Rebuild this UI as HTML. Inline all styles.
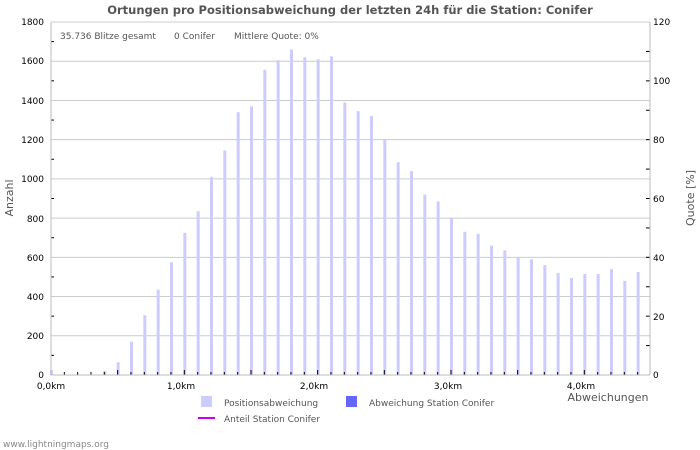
<!DOCTYPE html>
<html><head><meta charset="utf-8"><style>
body{margin:0;background:#fff;}
svg{display:block;font-family:"DejaVu Sans","Liberation Sans",sans-serif;}
</style></head><body>
<svg id="s" width="700" height="450" xmlns="http://www.w3.org/2000/svg">
<rect width="700" height="450" fill="#fff"/>
<text x="350" y="14" text-anchor="middle" font-size="11.5" font-weight="bold" fill="#555">Ortungen pro Positionsabweichung der letzten 24h für die Station: Conifer</text>
<g id="grid"></g>
<g id="bars"></g>
<g id="ticks"></g>
<line x1="51" y1="22" x2="51" y2="375" stroke="#bbb"/>
<line x1="650" y1="22" x2="650" y2="375" stroke="#bbb"/>
<line x1="51" y1="375" x2="650" y2="375" stroke="#bbb"/>
<g font-size="9" fill="#555">
<text x="60" y="39">35.736 Blitze gesamt</text>
<text x="174" y="39">0 Conifer</text>
<text x="234" y="39">Mittlere Quote: 0%</text>
</g>
<g font-size="9" fill="#000" text-anchor="end">
<text x="44" y="25">1800</text><text x="44" y="64">1600</text><text x="44" y="104">1400</text>
<text x="44" y="143">1200</text><text x="44" y="182">1000</text><text x="44" y="222">800</text>
<text x="44" y="261">600</text><text x="44" y="300">400</text><text x="44" y="339">200</text><text x="44" y="378">0</text>
</g>
<g font-size="9" fill="#000">
<text x="653" y="25">120</text><text x="653" y="84">100</text><text x="653" y="143">80</text>
<text x="653" y="202">60</text><text x="653" y="261">40</text><text x="653" y="320">20</text><text x="653" y="378">0</text>
</g>
<g font-size="9" fill="#000" text-anchor="middle">
<text x="51" y="389">0,0km</text><text x="181" y="389">1,0km</text><text x="314" y="389">2,0km</text>
<text x="448" y="389">3,0km</text><text x="581" y="389">4,0km</text>
</g>
<text x="608" y="401" font-size="11" fill="#555" text-anchor="middle">Abweichungen</text>
<text transform="translate(13,198) rotate(-90)" font-size="11" fill="#555" text-anchor="middle">Anzahl</text>
<text transform="translate(694,198) rotate(-90)" font-size="11" fill="#555" text-anchor="middle">Quote [%]</text>
<rect x="201" y="396" width="11" height="11" fill="#ccccff"/>
<text x="224" y="406" font-size="9" fill="#555">Positionsabweichung</text>
<rect x="346" y="396" width="11" height="11" fill="#6666ff"/>
<text x="369" y="406" font-size="9" fill="#555">Abweichung Station Conifer</text>
<line x1="198" y1="418" x2="215" y2="418" stroke="#cc00ee" stroke-width="2"/>
<text x="224" y="422" font-size="9" fill="#555">Anteil Station Conifer</text>
<text x="3" y="447" font-size="9" fill="#888">www.lightningmaps.org</text>
</svg>
<script>
var v=[25,0,0,0,20,65,170,305,435,575,725,835,1010,1145,1340,1370,1555,1605,1660,1620,1610,1625,1390,1345,1320,1200,1085,1040,920,885,800,730,720,660,635,600,590,560,520,495,515,515,540,480,525];
var ns="http://www.w3.org/2000/svg";
function el(p,t,a){var e=document.createElementNS(ns,t);for(var k in a)e.setAttribute(k,a[k]);document.getElementById(p).appendChild(e);}
var k=353/1800;
for(var g=200;g<=1800;g+=200){var y=375-g*k;el("grid","line",{x1:51,x2:650,y1:y,y2:y,stroke:"#ccc"});}
for(var m=100;m<1800;m+=200){var y=375-m*k;el("ticks","line",{x1:51,x2:54,y1:y,y2:y,stroke:"#000"});}
for(var q=10;q<120;q+=10){var y=375-q*353/120;el("ticks","line",{x1:646,x2:650,y1:y,y2:y,stroke:"#000"});}
for(var i=0;i<v.length;i++){var x=51+i*13.333;var h=v[i]*k;
 if(h>0)el("bars","rect",{x:x-1,y:375-h,width:3,height:h,fill:"#ccccff"});
 el("ticks","line",{x1:x,x2:x,y1:375,y2:(i%5==0?370:372),stroke:"#000"});}
</script>
</body></html>
